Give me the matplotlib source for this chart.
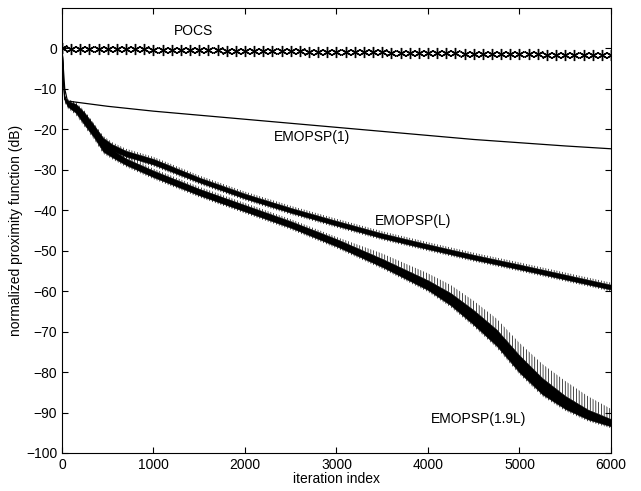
import matplotlib.pyplot as plt
import numpy as np

plt.rcParams['font.family'] = ['Liberation Sans', 'DejaVu Sans']
plt.rcParams['hatch.linewidth'] = 0.5

# POCS, one star every 100 iterations
pocs_it = list(range(0, 6001, 100))
pocs_db = [0.0, -0.03, -0.06, -0.09, -0.11, -0.14, -0.17, -0.2, -0.23, -0.25,
           -0.28, -0.31, -0.34, -0.37, -0.4, -0.42, -0.45, -0.48, -0.51, -0.54,
           -0.57, -0.59, -0.62, -0.65, -0.68, -0.71, -0.74, -0.76, -0.79, -0.82,
           -0.85, -0.88, -0.91, -0.93, -0.96, -0.99, -1.02, -1.05, -1.08, -1.1,
           -1.13, -1.16, -1.19, -1.22, -1.25, -1.27, -1.3, -1.33, -1.36, -1.39,
           -1.42, -1.44, -1.47, -1.5, -1.53, -1.56, -1.59, -1.61, -1.64, -1.67, -1.7]

# EMOPSP(1)
e1_it = [0, 30, 60, 500, 1000, 1500, 2000, 2500, 3000, 3500, 4000, 4500, 5000, 5500, 6000]
e1_db = [0, -10, -13, -14.3, -15.5, -16.5, -17.5, -18.5, -19.5, -20.5, -21.5, -22.5, -23.3, -24.1, -24.8]

# EMOPSP(L): centre of the noisy band and its half width
eL_it = [0, 20, 60, 150, 250, 350, 450, 550, 700, 1000, 1500, 2000, 2500, 3000, 3500, 4000, 4500, 5000, 5500, 6000]
eL_db = [0, -12, -13.5, -14.5, -17, -20, -23, -24.5, -26, -28, -32.5, -36.5, -40, -43.2, -46.3, -49, -51.6, -54, -56.5, -59]
eL_spread = [0, 0.3, 0.5, 0.8, 1.0, 1.0, 0.9, 0.8, 0.7, 0.7, 0.6, 0.6, 0.6, 0.6, 0.6, 0.6, 0.6, 0.6, 0.6, 0.6]

# EMOPSP(1.9L): centre, half width and the upward spikes at the end
eH_it = [0, 20, 60, 150, 250, 350, 450, 550, 700, 1000, 1500, 2000, 2500, 3000, 3500,
         4000, 4250, 4500, 4750, 5000, 5250, 5500, 5750, 6000]
eH_db = [0, -12, -13.8, -15, -18, -21, -24.5, -26, -28, -31, -35.5, -39.5, -43.5, -48, -53,
         -58.5, -62, -66.5, -71.5, -78, -83.5, -87.5, -90.5, -92.5]
eH_spread = [0, 0.3, 0.5, 0.9, 1.0, 1.0, 1.0, 0.9, 0.8, 0.8, 0.8, 0.8, 0.8, 0.9, 1.0,
             1.2, 1.5, 1.8, 2.0, 2.1, 2.0, 1.6, 1.2, 0.9]
eH_spike = [0, 0, 0, 0, 0.8, 0.8, 0, 0, 0, 0, 0, 0, 0, 0, 0.8,
            1.2, 1.5, 1.8, 2.2, 2.6, 3.0, 3.2, 2.8, 2.0]

fig = plt.figure(figsize=(6.41, 4.91), dpi=100)
ax = fig.add_axes([0.0967, 0.0774, 0.8565, 0.9063])

ax.plot(pocs_it, pocs_db, color='k', linestyle='none', marker=(6, 2, 0),
        markersize=8, markeredgewidth=1.0)
ax.plot(e1_it, e1_db, color='k', lw=0.9)

x = np.array(eL_it)
y = np.array(eL_db)
s = np.array(eL_spread)
ax.fill_between(x, y - s, y + s, color='k', lw=0.4)
ax.fill_between(x, y + s, y + s + 0.5, facecolor='none', edgecolor='k',
                hatch='||||||', lw=0)
ax.fill_between(x, y - s - 0.5, y - s, facecolor='none', edgecolor='k',
                hatch='||||||', lw=0)

x = np.array(eH_it)
y = np.array(eH_db)
s = np.array(eH_spread)
sp = np.array(eH_spike)
ax.fill_between(x, y - s, y + s, color='k', lw=0.4)
ax.fill_between(x, y + s, y + s + sp + 0.5, facecolor='none', edgecolor='k',
                hatch='||||||', lw=0)
ax.fill_between(x, y - s - 0.5, y - s, facecolor='none', edgecolor='k',
                hatch='||||||', lw=0)

ax.text(1432, 4.2, 'POCS', ha='center', va='center', fontsize=10)
ax.text(2732, -22, 'EMOPSP(1)', ha='center', va='center', fontsize=10)
ax.text(3836, -42.7, 'EMOPSP(L)', ha='center', va='center', fontsize=10)
ax.text(4557, -91.6, 'EMOPSP(1.9L)', ha='center', va='center', fontsize=10)

ax.set_xlim(0, 6000)
ax.set_ylim(-100, 10)
ax.set_xticks(range(0, 6001, 1000))
ax.set_yticks(range(-100, 1, 10))
ax.tick_params(direction='in', top=True, right=True, labelsize=10, length=4)
ax.set_xlabel('iteration index', fontsize=10, labelpad=0)
ax.set_ylabel('normalized proximity function (dB)', fontsize=10, labelpad=2)

fig.savefig('out.png', dpi=100)
